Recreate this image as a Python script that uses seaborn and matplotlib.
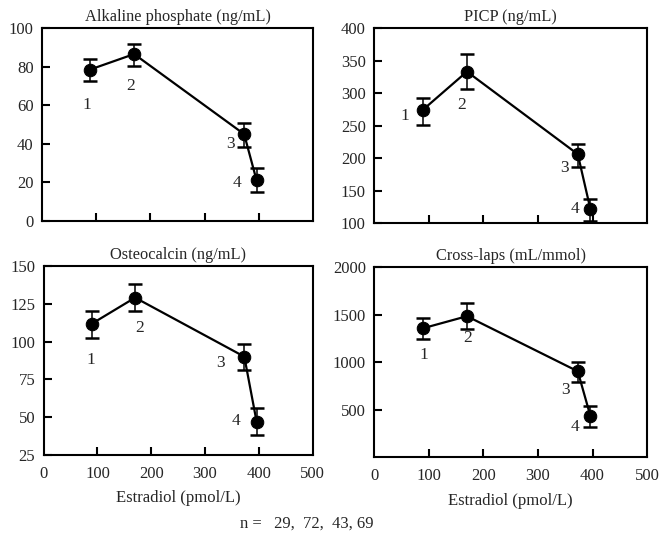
import pandas as pd
import numpy as np
import matplotlib
matplotlib.use('Agg')
import matplotlib.pyplot as plt
import seaborn as sns

# Dados
estradiol = [89, 170, 373, 396]
group_labels = ['1', '2', '3', '4']

alk_mean = [78.5, 86.5, 45.0, 21.0]
alk_lo = [72.4, 80.1, 38.6, 15.0]
alk_hi = [84.1, 91.8, 50.6, 27.7]
alk_lab_xy = [(82, 59.9), (164, 69.8), (347, 39.8), (359, 19.7)]

picp_mean = [274, 333, 206, 122]
picp_lo = [251.5, 306, 187, 102.6]
picp_hi = [292.4, 359.7, 221.5, 137.7]
picp_lab_xy = [(57, 264.5), (160, 281), (349, 185), (368, 121.7)]

osteo_mean = [111.8, 129.2, 90.1, 46.7]
osteo_lo = [102.5, 120.5, 81.4, 38.0]
osteo_hi = [120.5, 138.3, 98.8, 56.0]
osteo_lab_xy = [(88, 87.9), (178, 109.2), (328, 85.8), (357, 47.4)]

cross_mean = [1357, 1485, 904, 435]
cross_lo = [1249, 1346, 790, 320]
cross_hi = [1471, 1624, 1005, 539]
cross_lab_xy = [(91, 1078), (172, 1252), (351, 706), (367, 313)]

panels = [
    ('Alkaline phosphate (ng/mL)', alk_mean, alk_lo, alk_hi, alk_lab_xy, (0, 100), [0, 20, 40, 60, 80, 100]),
    ('PICP (ng/mL)', picp_mean, picp_lo, picp_hi, picp_lab_xy, (100, 400), [100, 150, 200, 250, 300, 350, 400]),
    ('Osteocalcin (ng/mL)', osteo_mean, osteo_lo, osteo_hi, osteo_lab_xy, (25, 150), [25, 50, 75, 100, 125, 150]),
    ('Cross-laps (mL/mmol)', cross_mean, cross_lo, cross_hi, cross_lab_xy, (0, 2000), [500, 1000, 1500, 2000]),
]

sns.set_theme(style='ticks')
plt.rcParams['font.family'] = ['Liberation Serif', 'DejaVu Serif']

fig = plt.figure(figsize=(6.61, 5.39), dpi=100)
positions = [
    [0.0635, 0.590, 0.410, 0.358],
    [0.566, 0.586, 0.413, 0.362],
    [0.066, 0.156, 0.407, 0.350],
    [0.566, 0.152, 0.413, 0.352],
]

for i, (title, mean, lo, hi, lab_xy, ylim, yticks) in enumerate(panels):
    ax = fig.add_axes(positions[i])
    df = pd.DataFrame({'estradiol': estradiol, 'valor': mean})
    err = [np.array(mean) - np.array(lo), np.array(hi) - np.array(mean)]
    ax.errorbar(df['estradiol'], df['valor'], yerr=err, fmt='none', ecolor='black',
                elinewidth=1.1, capsize=4.8, capthick=1.8, zorder=2)
    sns.lineplot(data=df, x='estradiol', y='valor', ax=ax, color='black', linewidth=1.6,
                 marker='o', markersize=9, markeredgecolor='black', markerfacecolor='black', zorder=3)
    for lab, (lx, ly) in zip(group_labels, lab_xy):
        ax.text(lx, ly, lab, ha='center', va='center', fontsize=12.5)

    ax.set_xlim(0, 500)
    ax.set_ylim(*ylim)
    ax.set_yticks(yticks)
    ax.set_xticks([100, 200, 300, 400])
    ax.set_title(title, fontsize=11.8, pad=5)
    ax.set_ylabel('')
    for s in ax.spines.values():
        s.set_linewidth(1.5)
        s.set_color('black')
    ax.tick_params(axis='x', bottom=True, direction='in', length=6, width=1.5,
                   color='black', labelsize=12, pad=8)
    ax.tick_params(axis='y', left=True, direction='in', length=6, width=1.5,
                   color='black', labelsize=12, pad=6)

    if i < 2:
        ax.set_xticklabels([])
        ax.set_xlabel('')
    else:
        ax.set_xticks([0, 100, 200, 300, 400, 500])
        ax.set_xticklabels(['0', '100', '200', '300', '400', '500'])
        ax.xaxis.get_major_ticks()[0].tick1line.set_visible(False)
        ax.xaxis.get_major_ticks()[5].tick1line.set_visible(False)
        ax.set_xlabel('Estradiol (pmol/L)', fontsize=12, labelpad=6)

fig.text(0.363, 0.028, 'n =   29,  72,  43, 69', fontsize=12, ha='left', va='center')

plt.savefig('out.png', dpi=100)
plt.close()
